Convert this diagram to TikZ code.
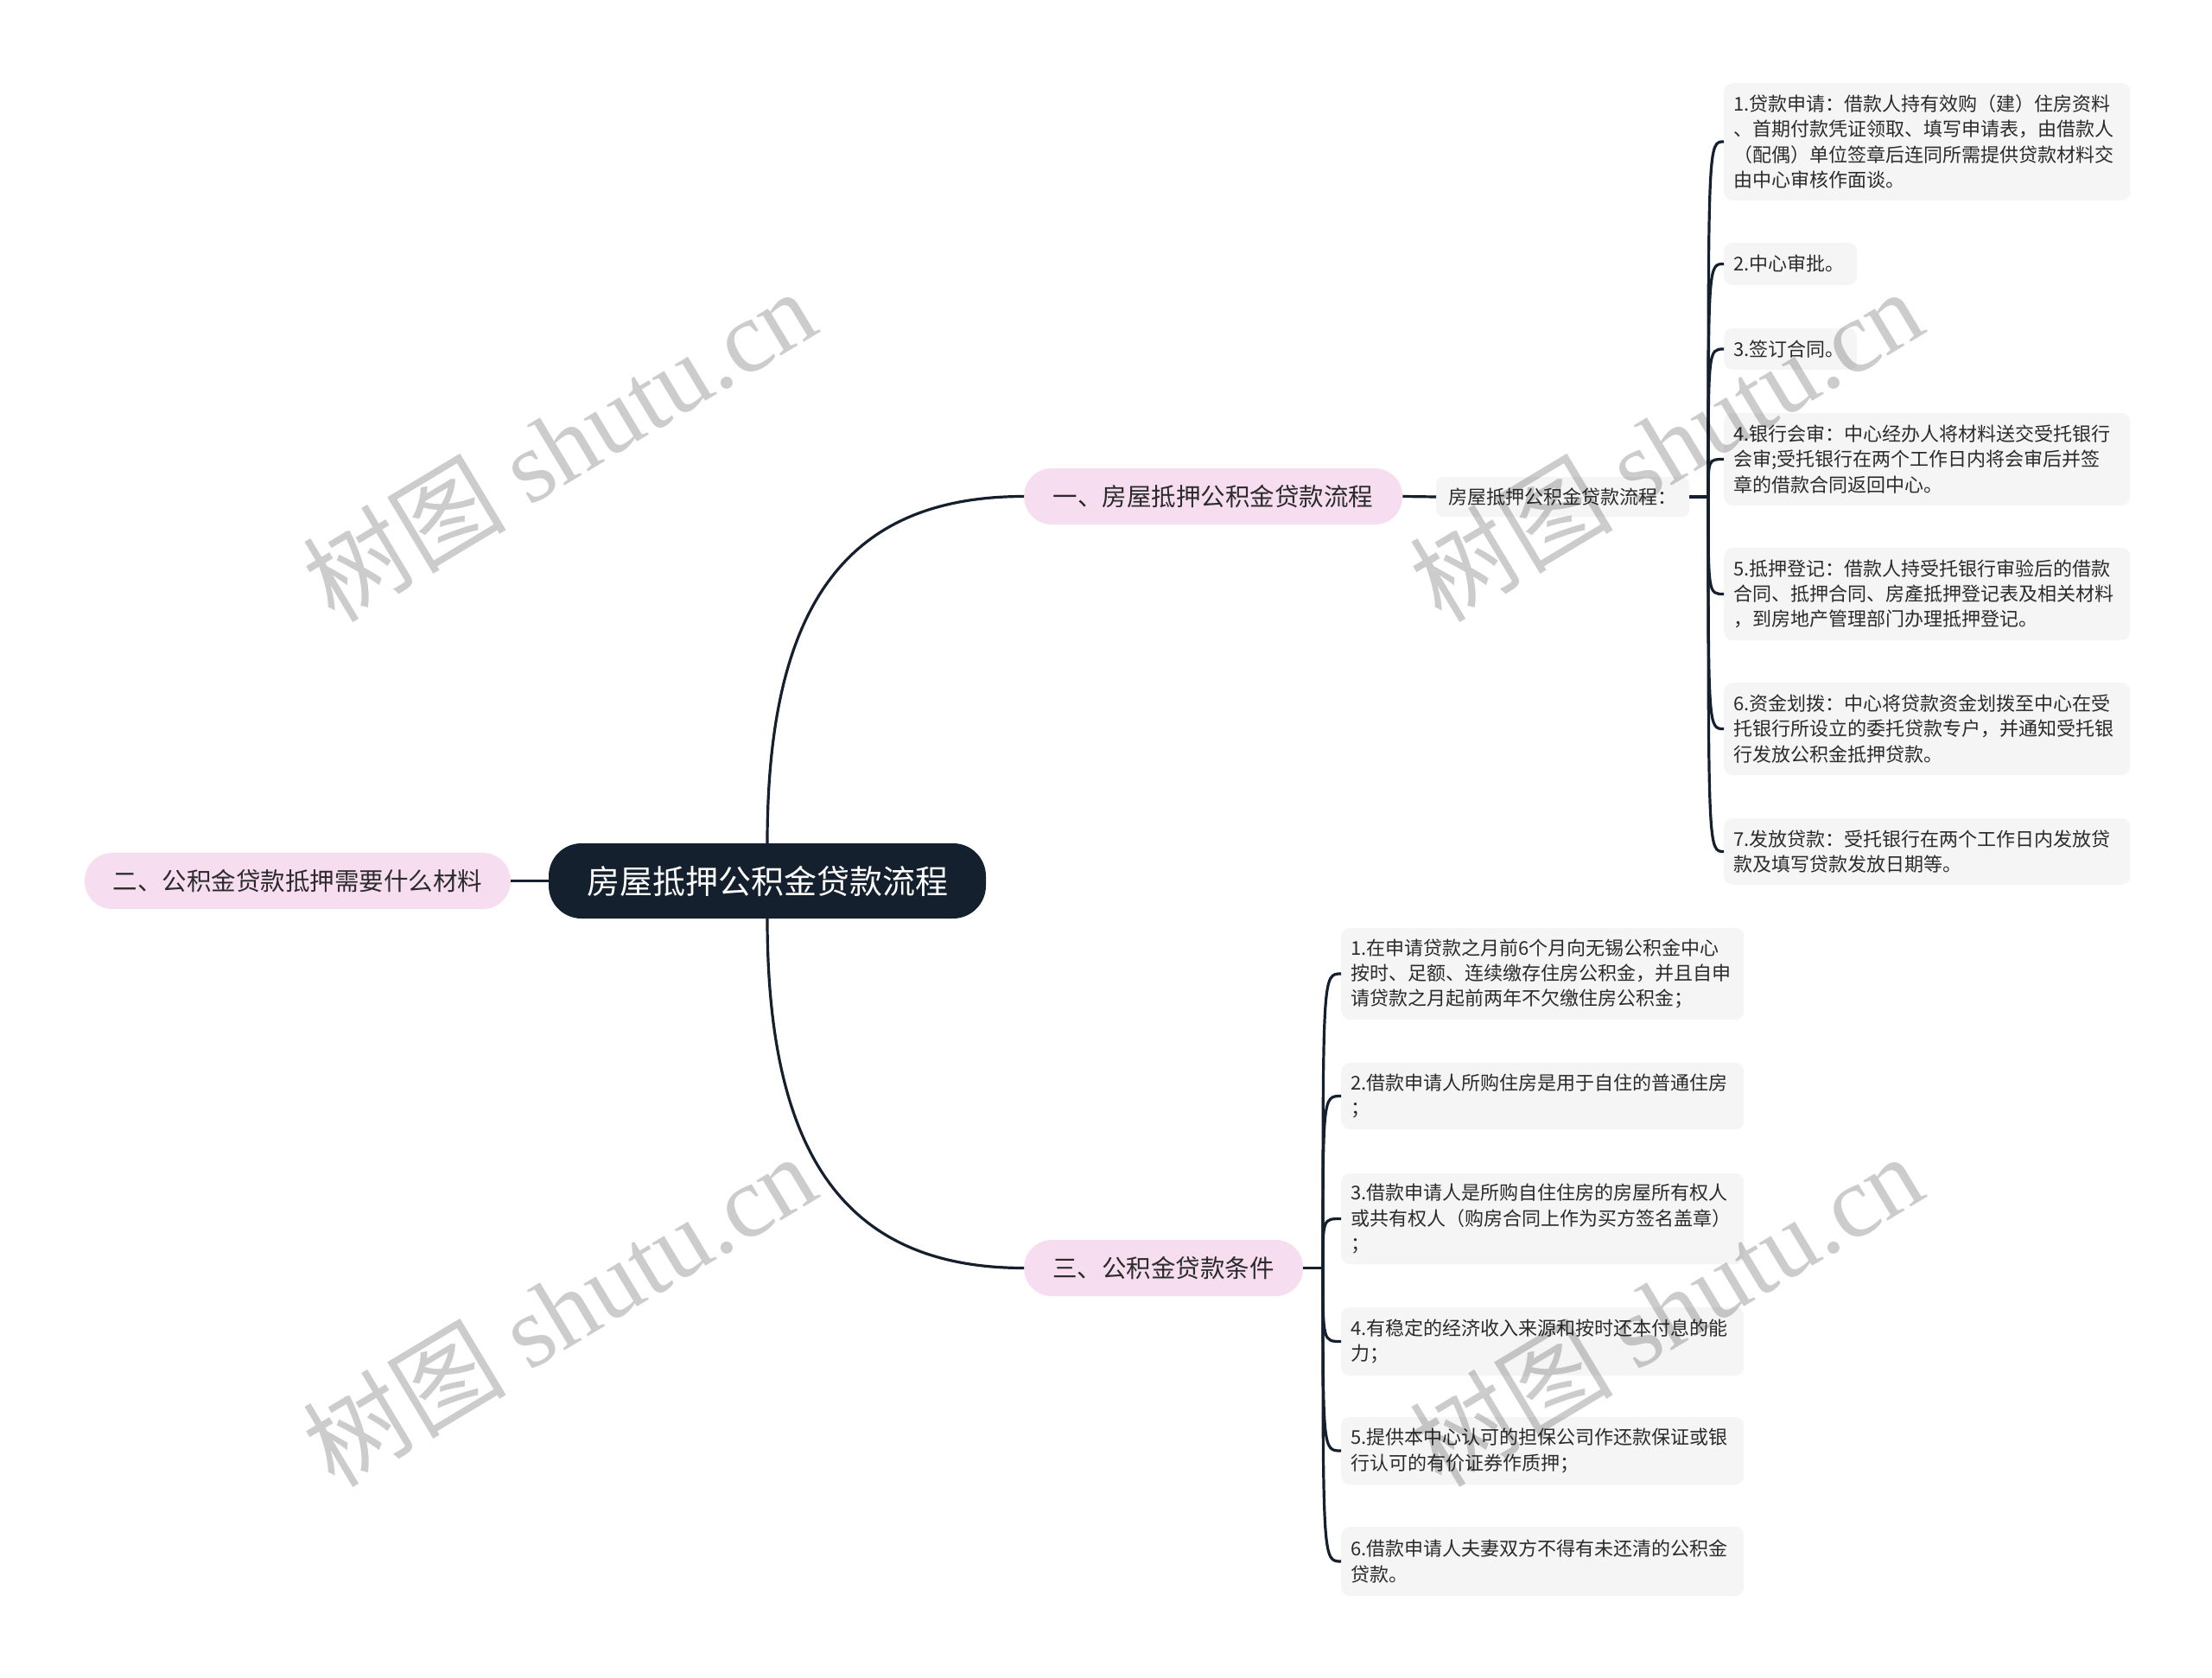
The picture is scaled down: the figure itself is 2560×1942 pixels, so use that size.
\documentclass[tikz,border=0pt]{standalone}
\usepackage{fontspec}
\setmainfont{Noto Sans CJK SC}
\newfontfamily\wmlatin{Liberation Serif}
\usetikzlibrary{calc}
\definecolor{rootc}{HTML}{14202E}
\definecolor{pinkc}{HTML}{F6DDEF}
\definecolor{boxc}{HTML}{F5F5F5}
\definecolor{linec}{HTML}{14202E}
\definecolor{txtc}{HTML}{2B2B2B}
\tikzset{
  rootbox/.style={fill=rootc, text=white, rounded corners=38pt, minimum width=506pt, minimum height=87pt, inner sep=0pt, font=\fontsize{38}{44}\selectfont},
  lvone/.style={fill=pinkc, text=txtc, rounded corners=32pt, minimum height=65pt, inner sep=0pt, font=\fontsize{28.5}{34}\selectfont},
  labelbox/.style={fill=boxc, text=txtc, rounded corners=8pt, anchor=west, minimum width=293pt, minimum height=46pt, inner xsep=14.5pt, inner ysep=0pt, font=\fontsize{22}{29.3}\selectfont},
  itembox/.style={fill=boxc, text=txtc, rounded corners=10pt, anchor=west, align=left, inner xsep=11pt, inner ysep=0pt, font=\fontsize{22}{29.3}\selectfont},
  link/.style={draw=linec, line width=3.2pt},
  wm/.style={rotate=31, text=black, text opacity=0.2, inner sep=0pt, font=\fontsize{118}{118}\selectfont}
}
\begin{document}
\begin{tikzpicture}[x=1pt, y=-1pt]
\useasboundingbox (0,0) rectangle (2560,1942);
\fill[white] (0,0) rectangle (2560,1942);

% main nodes
\node[rootbox] (root) at (888,1019.5) {房屋抵押公积金贷款流程};
\node[lvone, anchor=west, minimum width=438pt] (n1) at (1185,574.5) {一、房屋抵押公积金贷款流程};
\node[lvone, minimum width=493pt] (n2) at (344.5,1019.5) {二、公积金贷款抵押需要什么材料};
\node[lvone, anchor=west, minimum width=323pt] (n3) at (1185,1467.5) {三、公积金贷款条件};

\node[labelbox] (lab) at (1662,575) {房屋抵押公积金贷款流程：};

% section 1 items
\node[itembox, text width=448pt, minimum height=136pt] (i1) at (1995,164) {1.贷款申请：借款人持有效购（建）住房资料\\、首期付款凭证领取、填写申请表，由借款人\\（配偶）单位签章后连同所需提供贷款材料交\\由中心审核作面谈。};
\node[itembox, text width=132pt, minimum height=49pt] (i2) at (1995,305.5) {2.中心审批。};
\node[itembox, text width=132pt, minimum height=48pt] (i3) at (1995,404) {3.签订合同。};
\node[itembox, text width=448pt, minimum height=107pt] (i4) at (1995,531.5) {4.银行会审：中心经办人将材料送交受托银行\\会审;受托银行在两个工作日内将会审后并签\\章的借款合同返回中心。};
\node[itembox, text width=448pt, minimum height=107pt] (i5) at (1995,687.5) {5.抵押登记：借款人持受托银行审验后的借款\\合同、抵押合同、房產抵押登记表及相关材料\\，到房地产管理部门办理抵押登记。};
\node[itembox, text width=448pt, minimum height=107pt] (i6) at (1995,843.5) {6.资金划拨：中心将贷款资金划拨至中心在受\\托银行所设立的委托贷款专户，并通知受托银\\行发放公积金抵押贷款。};
\node[itembox, text width=448pt, minimum height=77pt] (i7) at (1995,985.5) {7.发放贷款：受托银行在两个工作日内发放贷\\款及填写贷款发放日期等。};

% section 3 items
\node[itembox, text width=444pt, minimum height=106pt] (c1) at (1552,1127) {1.在申请贷款之月前6个月向无锡公积金中心\\按时、足额、连续缴存住房公积金，并且自申\\请贷款之月起前两年不欠缴住房公积金；};
\node[itembox, text width=444pt, minimum height=77pt] (c2) at (1552,1268.5) {2.借款申请人所购住房是用于自住的普通住房\\；};
\node[itembox, text width=444pt, minimum height=105pt] (c3) at (1552,1410.5) {3.借款申请人是所购自住住房的房屋所有权人\\或共有权人（购房合同上作为买方签名盖章）\\；};
\node[itembox, text width=444pt, minimum height=79pt] (c4) at (1552,1552.5) {4.有稳定的经济收入来源和按时还本付息的能\\力；};
\node[itembox, text width=444pt, minimum height=78pt] (c5) at (1552,1679) {5.提供本中心认可的担保公司作还款保证或银\\行认可的有价证券作质押；};
\node[itembox, text width=444pt, minimum height=80pt] (c6) at (1552,1807) {6.借款申请人夫妻双方不得有未还清的公积金\\贷款。};

% connectors from root
\draw[link] (root.north) .. controls ($(root.north)+(0,-276)$) and ($(n1.west)+(-205,0)$) .. (n1.west);
\draw[link] (root.south) .. controls ($(root.south)+(0,276)$) and ($(n3.west)+(-205,0)$) .. (n3.west);
\draw[link] (root.west) -- (n2.east);

% section 1
\draw[link] (n1.east) -- (lab.west);
\coordinate (sp1) at (1977,575);
\draw[link] (lab.east) -- (sp1);
\foreach \c in {i1,i2,i3,i4,i5,i6,i7}{
  \draw[link] (sp1) .. controls (sp1 |- \c.west) .. (\c.west);
}

% section 3
\coordinate (sp3) at (1531,1467.5);
\draw[link] (n3.east) -- (sp3);
\foreach \c in {c1,c2,c3,c4,c5,c6}{
  \draw[link] (sp3) .. controls (sp3 |- \c.west) .. (\c.west);
}

% watermarks
\node[wm] (w1) at (647,514) {树图 {\wmlatin shutu.cn}};
\node[wm] (w2) at (1928,514) {树图 {\wmlatin shutu.cn}};
\node[wm] (w3) at (647,1515) {树图 {\wmlatin shutu.cn}};
\node[wm] (w4) at (1928,1515) {树图 {\wmlatin shutu.cn}};
\end{tikzpicture}
\end{document}
